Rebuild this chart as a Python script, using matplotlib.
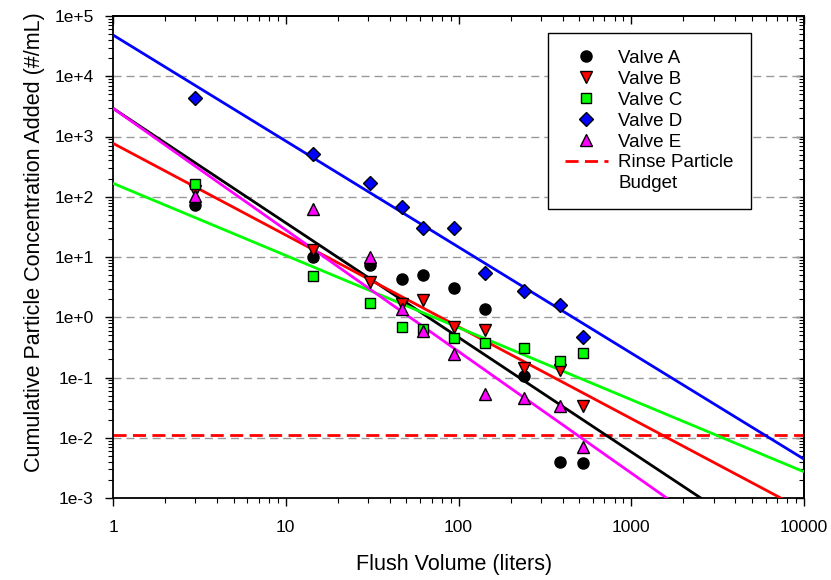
import numpy as np
import matplotlib
matplotlib.use("Agg")
import matplotlib.pyplot as plt
from matplotlib.lines import Line2D
from matplotlib.ticker import LogLocator, FuncFormatter, NullFormatter

plt.rcParams['font.family'] = ['Liberation Sans', 'DejaVu Sans']

# Flush volume (liters) at each sampling point
flush_volume = [3.0, 14.4, 30.7, 46.9, 62.6, 94.2, 142, 239, 387, 526]

# Cumulative particle concentration added (#/mL) per valve
valve_a = [73, 10.1, 7.4, 4.3, 5.0, 3.1, 1.36, 0.106, 0.0039, 0.0038]
valve_b = [125, 13.1, 3.8, 1.66, 1.93, 0.68, 0.61, 0.142, 0.133, 0.0337]
valve_c = [163, 4.9, 1.75, 0.68, 0.63, 0.46, 0.38, 0.305, 0.188, 0.252]
valve_d = [4300, 513, 167, 66.8, 29.9, 30.3, 5.5, 2.76, 1.6, 0.475]
valve_e = [103, 62.6, 10.1, 1.36, 0.60, 0.25, 0.053, 0.045, 0.034, 0.0071]

# Power-law fits: log10(C) = intercept + slope * log10(V)
fit_intercept = {'A': 3.468, 'B': 2.887, 'C': 2.223, 'D': 4.685, 'E': 3.468}
fit_slope = {'A': -1.901, 'B': -1.523, 'C': -1.197, 'D': -1.760, 'E': -2.018}

rinse_budget = 0.011

series = [
    ('A', 'Valve A', valve_a, 'o', '#000000', 8.0),
    ('B', 'Valve B', valve_b, 'v', '#FF0000', 8.5),
    ('C', 'Valve C', valve_c, 's', '#00FF00', 7.5),
    ('D', 'Valve D', valve_d, 'D', '#0000FF', 7.5),
    ('E', 'Valve E', valve_e, '^', '#FF00FF', 8.5),
]

fig = plt.figure(figsize=(8.31, 5.80), dpi=100)
ax = fig.add_axes([113 / 831, 82 / 580, 691 / 831, 482 / 580])
ax.set_xscale('log')
ax.set_yscale('log')
ax.set_xlim(1, 1e4)
ax.set_ylim(1e-3, 1e5)

# horizontal dashed grid at major decades
for exp in range(-2, 5):
    ax.axhline(10.0 ** exp, color='#999999', lw=1.0, dashes=(5.8, 3.6), zorder=1)

# fitted lines
xfit = np.logspace(0, 4, 200)
for key, _, _, _, color, _ in series:
    yfit = 10 ** (fit_intercept[key] + fit_slope[key] * np.log10(xfit))
    ax.plot(xfit, yfit, color=color, lw=2.0, zorder=3, solid_capstyle='butt')

# rinse particle budget
ax.axhline(rinse_budget, color='#FF0000', lw=2.0, dashes=(4.7, 2.3), zorder=2)

# data points
handles = []
for key, label, vals, marker, color, ms in series:
    ax.plot(flush_volume, vals, linestyle='none', marker=marker, ms=ms,
            markerfacecolor=color, markeredgecolor='black', markeredgewidth=1.0,
            zorder=5)
    handles.append(Line2D([], [], linestyle='none', marker=marker, ms=ms,
                          markerfacecolor=color, markeredgecolor='black',
                          markeredgewidth=1.0, label=label))
handles.append(Line2D([], [], color='#FF0000', lw=2.0, dashes=(4.7, 2.3),
                      label='Rinse Particle'))
handles.append(Line2D([], [], linestyle='none', label='Budget'))

leg = ax.legend(handles=handles, loc='upper left',
                bbox_to_anchor=(0.6295, 0.9647), borderaxespad=0,
                fontsize=13.5, frameon=True, fancybox=False, shadow=False,
                handlelength=2.3, handletextpad=0.55, borderpad=0.9,
                labelspacing=0.2, framealpha=1.0)
leg.get_frame().set_edgecolor('black')
leg.get_frame().set_linewidth(1.0)
leg.set_zorder(10)

# ticks and labels
x_labels = {1: '1', 10: '10', 100: '100', 1000: '1000', 10000: '10000'}
ax.xaxis.set_major_locator(LogLocator(base=10, numticks=10))
ax.xaxis.set_minor_locator(LogLocator(base=10, subs=np.arange(2, 10), numticks=20))
ax.xaxis.set_major_formatter(FuncFormatter(lambda v, p: x_labels.get(int(round(v)), '')))
ax.xaxis.set_minor_formatter(NullFormatter())
ax.yaxis.set_major_locator(LogLocator(base=10, numticks=20))
ax.yaxis.set_minor_locator(LogLocator(base=10, subs=np.arange(2, 10), numticks=40))
ax.yaxis.set_major_formatter(FuncFormatter(lambda v, p: f"1e{int(round(np.log10(v))):+d}"))
ax.yaxis.set_minor_formatter(NullFormatter())

ax.tick_params(which='major', direction='out', length=6, width=1.0,
               labelsize=12.5, pad=8)
ax.tick_params(which='minor', direction='out', length=3.5, width=0.8)
ax.tick_params(axis='x', which='major', pad=10)

for side in ax.spines.values():
    side.set_linewidth(1.3)

# mirrored inward ticks on top and right
top = ax.secondary_xaxis('top')
top.set_xscale('log')
top.xaxis.set_major_locator(LogLocator(base=10, numticks=10))
top.xaxis.set_minor_locator(LogLocator(base=10, subs=np.arange(2, 10), numticks=20))
top.tick_params(which='major', direction='in', length=6, width=1.0, labeltop=False)
top.tick_params(which='minor', direction='in', length=3.5, width=0.8)
top.xaxis.set_major_formatter(NullFormatter())
top.xaxis.set_minor_formatter(NullFormatter())
top.spines['top'].set_linewidth(1.3)

right = ax.secondary_yaxis('right')
right.set_yscale('log')
right.yaxis.set_major_locator(LogLocator(base=10, numticks=20))
right.yaxis.set_minor_locator(LogLocator(base=10, subs=np.arange(2, 10), numticks=40))
right.tick_params(which='major', direction='in', length=6, width=1.0, labelright=False)
right.tick_params(which='minor', direction='in', length=3.5, width=0.8)
right.yaxis.set_major_formatter(NullFormatter())
right.yaxis.set_minor_formatter(NullFormatter())
right.spines['right'].set_linewidth(1.3)

ax.set_xlabel('Flush Volume (liters)', fontsize=15.5)
ax.set_ylabel('Cumulative Particle Concentration Added (#/mL)', fontsize=15.5)
ax.xaxis.set_label_coords(0.493, -0.117)
ax.yaxis.set_label_coords(-0.098, 0.531)

fig.savefig('out.png', dpi=100)
